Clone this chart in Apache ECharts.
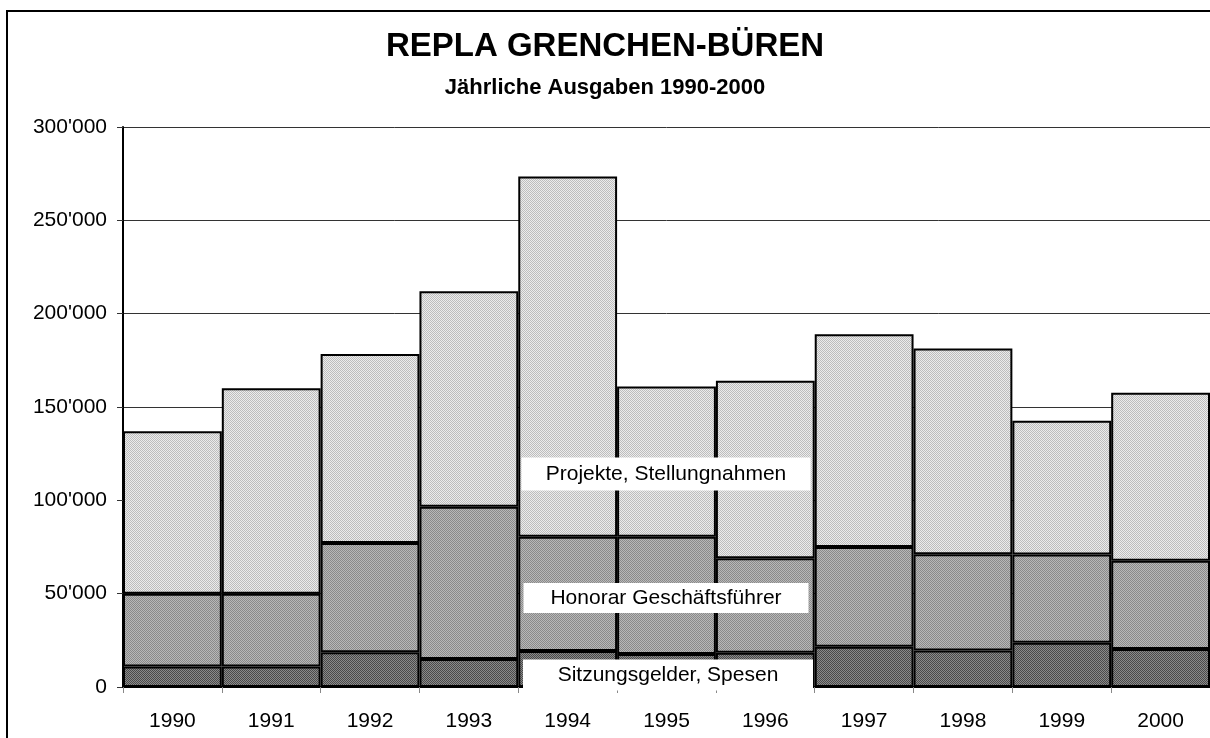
<!DOCTYPE html>
<html>
<head>
<meta charset="utf-8">
<script src="https://cdn.jsdelivr.net/npm/echarts@6/dist/echarts.min.js"></script>
<style>
	html, body { margin: 0; padding: 0; background: #fff; }
	#chart { width: 1210px; height: 738px; }
</style>
</head>
<body>
<div id="chart"></div>
<script>
// Jahre und Ausgaben (CHF), gestapelt von unten nach oben
var years = ['1990', '1991', '1992', '1993', '1994', '1995', '1996', '1997', '1998', '1999', '2000'];
var sitzungsgelder = [11000, 11000, 18600, 15000, 19300, 17700, 18400, 21600, 19500, 23700, 20400];
var honorar = [39000, 39000, 58500, 81500, 61200, 62800, 50600, 53400, 51600, 47300, 47300];
var projekte = [87000, 110000, 101300, 115500, 193000, 80500, 95000, 114000, 110300, 71700, 90000];
var seriesNames = ['Sitzungsgelder, Spesen', 'Honorar Geschäftsführer', 'Projekte, Stellungnahmen'];

var font = '"Liberation Sans", Arial, sans-serif';

// kleines Punktraster wie im Original
function dots(a, b) {
	var c = document.createElement('canvas');
	c.width = 2; c.height = 2;
	var ctx = c.getContext('2d');
	ctx.fillStyle = a; ctx.fillRect(0, 0, 2, 2);
	ctx.fillStyle = b; ctx.fillRect(0, 0, 1, 1); ctx.fillRect(1, 1, 1, 1);
	return { image: c, repeat: 'repeat' };
}

function fmt(v) {
	return String(v).replace(/\B(?=(\d{3})+(?!\d))/g, "'");
}

function bar(name, data, fill) {
	return {
		name: name,
		type: 'bar',
		stack: 'total',
		data: data,
		barWidth: '100%',
		barCategoryGap: 0,
		itemStyle: { color: fill, borderColor: '#000', borderWidth: 2 },
		emphasis: { disabled: true }
	};
}

// weisse Beschriftungsfelder wie in Excel
function labelBox(text, cx, cy, w, h) {
	return [
		{ type: 'rect', z: 100, shape: { x: cx - w / 2, y: cy - h / 2, width: w, height: h }, style: { fill: '#fff' } },
		{ type: 'text', z: 101, x: cx, y: cy, style: { text: text, font: '21px ' + font, fill: '#000', align: 'center', verticalAlign: 'middle' } }
	];
}

var chart = echarts.init(document.getElementById('chart'));
chart.setOption({
	animation: false,
	backgroundColor: '#fff',
	textStyle: { fontFamily: font },
	title: {
		text: 'REPLA GRENCHEN-BÜREN',
		subtext: 'Jährliche Ausgaben 1990-2000',
		left: 'center',
		top: 25,
		itemGap: 14,
		textStyle: { fontFamily: font, fontSize: 33, fontWeight: 'bold', color: '#000' },
		subtextStyle: { fontFamily: font, fontSize: 22, fontWeight: 'bold', color: '#000' }
	},
	grid: { left: 123, right: -2, top: 127, bottom: 51 },
	xAxis: {
		type: 'category',
		data: years,
		axisLine: { lineStyle: { color: '#000', width: 2 } },
		axisTick: { show: true, length: 6, lineStyle: { color: '#888' } },
		axisLabel: { color: '#000', fontSize: 21, margin: 24, fontFamily: font },
		z: 10
	},
	yAxis: {
		type: 'value',
		min: 0,
		max: 300000,
		interval: 50000,
		axisLine: { show: true, lineStyle: { color: '#000', width: 2 } },
		axisTick: { show: true, length: 6, lineStyle: { color: '#333' } },
		axisLabel: { color: '#000', fontSize: 21, margin: 16, fontFamily: font, formatter: fmt },
		splitLine: { lineStyle: { color: '#333', width: 1 } }
	},
	series: [
		bar(seriesNames[0], sitzungsgelder, dots('#8a8a8a', '#4a4a4a')),
		bar(seriesNames[1], honorar, dots('#b8b8b8', '#8a8a8a')),
		bar(seriesNames[2], projekte, dots('#ececec', '#bdbdbd'))
	],
	graphic: [
		{ type: 'rect', z: -1, shape: { x: 7, y: 11, width: 1220, height: 740 }, style: { fill: 'none', stroke: '#000', lineWidth: 2 } }
	].concat(
		labelBox(seriesNames[2], 666, 474, 289, 33),
		labelBox(seriesNames[1], 666, 598, 285, 30),
		labelBox(seriesNames[0], 668, 675, 290, 31)
	)
});
</script>
</body>
</html>
